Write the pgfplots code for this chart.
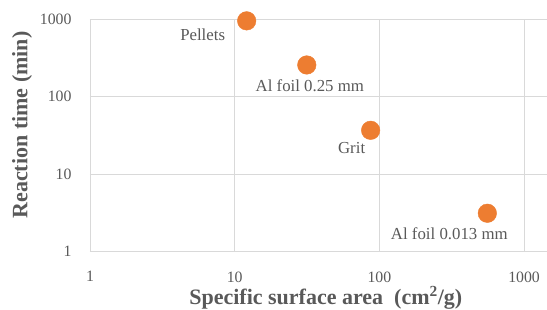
\documentclass[border=0pt]{standalone}
\usepackage{fontspec}
\setmainfont{Liberation Serif}
\usepackage{pgfplots}
\pgfplotsset{compat=1.18}
\definecolor{dotc}{HTML}{ED7D31}
\definecolor{txt}{HTML}{595959}
\definecolor{grd}{HTML}{D9D9D9}
\begin{document}
\begin{tikzpicture}
\path[use as bounding box] (-90pt,-57.5pt) rectangle (457pt,251.5pt);
\begin{axis}[
  at={(0,0)}, anchor=south west,
  scale only axis, width=457pt, height=232.2pt,
  xmode=log, ymode=log,
  xmin=1, xmax=1440, ymin=1, ymax=1000,
  log basis x=10, log basis y=10,
  xtick={1,10,100,1000}, xticklabels={1,10,100,1000},
  ytick={1,10,100,1000}, yticklabels={1,10,100,1000},
  hide obscured x ticks=false, hide obscured y ticks=false,
  minor tick num=0,
  grid=major,
  major grid style={grd, line width=0.9pt},
  axis line style={grd, line width=0.9pt},
  axis x line*=bottom, axis y line*=left,
  x axis line style={-}, y axis line style={-},
  major tick length=0pt,
  /pgf/number format/assume math mode=true,
  ticklabel style={font=\fontsize{15.8}{18}\selectfont, text=txt},
  xticklabel style={yshift=-16.5pt},
  yticklabel style={xshift=-15pt},
  xlabel={Specific surface area\ \ (cm\textsuperscript{2}/g)},
  ylabel={Reaction time (min)},
  label style={font=\bfseries\fontsize{22}{24}\selectfont, text=txt},
  xlabel style={at={(axis description cs:0.516,0)}, anchor=center, yshift=-46.5pt},
  ylabel style={at={(axis description cs:-0.1488,0.545)}, anchor=center},
  clip=false,
]
\addplot[only marks, mark=*, mark size=9.3pt, color=dotc,
  nodes near coords, point meta=explicit symbolic,
  visualization depends on={\thisrow{dx}\as\dx},
  visualization depends on={\thisrow{dy}\as\dy},
  every node near coord/.append style={anchor=center, xshift=\dx pt, yshift=\dy pt,
     font=\fontsize{16.8}{19}\selectfont, text=txt, inner sep=0pt}]
  table[col sep=comma, x=x, y=y, meta=label]{
x,y,label,dx,dy
12.1,955,Pellets,-44,-13.6
31.5,257,Al foil 0.25 mm,3,-20.3
87,36.8,Grit,-19,-18
557,3.12,Al foil 0.013 mm,-38,-20
};
\end{axis}
\end{tikzpicture}
\end{document}
